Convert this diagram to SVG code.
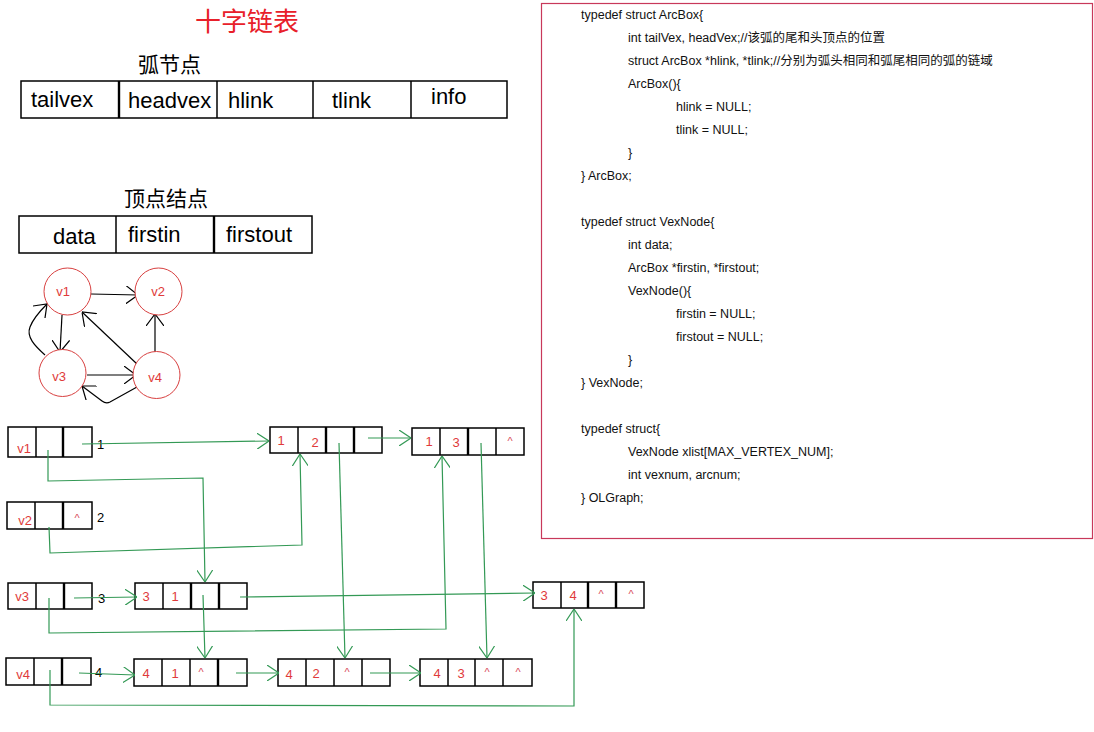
<svg xmlns="http://www.w3.org/2000/svg" width="1094" height="732" viewBox="0 0 1094 732">
<style>
.cjk{font-family:"Noto Sans CJK SC","Liberation Sans",sans-serif}
.big{font-family:"Liberation Sans","Noto Sans CJK SC",sans-serif;font-size:22px;fill:#000}
.code{font-family:"Liberation Sans","Noto Sans CJK SC",sans-serif;font-size:12.5px;fill:#111}
.box{fill:#fff;stroke:#000;stroke-width:1.5}
.div{stroke:#000;stroke-width:1.5}
.thk{stroke:#000;stroke-width:2.4}
.rt{font-family:"Liberation Sans",sans-serif;font-size:13px;fill:#e03a3a;text-anchor:middle}
.car{font-family:"Liberation Sans",sans-serif;font-size:11px;fill:#d84a5a;text-anchor:middle}
.lbl{font-family:"Liberation Sans",sans-serif;font-size:13px;fill:#000}
.circ{fill:#fff;stroke:#d84040;stroke-width:1}
.g{fill:none;stroke:#339955;stroke-width:1.2;marker-end:url(#ga)}
.b{fill:none;stroke:#000;stroke-width:1.2;marker-end:url(#ba)}
</style>
<defs>
<marker id="ga" viewBox="0 0 12 16" refX="12" refY="8" markerWidth="12" markerHeight="16" orient="auto" markerUnits="userSpaceOnUse"><path d="M0,0 L12,8 L0,16" fill="none" stroke="#339955" stroke-width="1.2"/></marker>
<marker id="ba" viewBox="0 0 12 18" refX="12" refY="9" markerWidth="12" markerHeight="18" orient="auto" markerUnits="userSpaceOnUse"><path d="M0,0 L12,9 L0,18" fill="none" stroke="#000" stroke-width="1.2"/></marker>
</defs>
<rect width="1094" height="732" fill="#fff"/>

<text class="cjk" x="195" y="31" font-size="26" fill="#e8202a">十字链表</text>

<g id="arcbox">
<text class="cjk" x="138" y="72" font-size="21" fill="#000">弧节点</text>
<rect class="box" x="21" y="81" width="486" height="37"/>
<line class="thk" x1="119" y1="81" x2="119" y2="118"/>
<line class="div" x1="217" y1="81" x2="217" y2="118"/>
<line class="div" x1="313" y1="81" x2="313" y2="118"/>
<line class="div" x1="411" y1="81" x2="411" y2="118"/>
<text class="big" x="31" y="107">tailvex</text>
<text class="big" x="128" y="108">headvex</text>
<text class="big" x="228" y="108">hlink</text>
<text class="big" x="332" y="108">tlink</text>
<text class="big" x="431" y="104">info</text>
</g>

<g id="vexbox">
<text class="cjk" x="124" y="206" font-size="21" fill="#000">顶点结点</text>
<rect class="box" x="19" y="216" width="293" height="37"/>
<line class="div" x1="116" y1="216" x2="116" y2="253"/>
<line class="thk" x1="214" y1="216" x2="214" y2="253"/>
<text class="big" x="53" y="244">data</text>
<text class="big" x="128" y="242">firstin</text>
<text class="big" x="226" y="242">firstout</text>
</g>

<g id="code">
<rect x="541.5" y="3.5" width="551" height="535" fill="none" stroke="#c8385a" stroke-width="1.2"/>
<text class="code" x="581" y="18.5">typedef struct ArcBox{</text>
<text class="code" x="628" y="41.5">int tailVex, headVex;//该弧的尾和头顶点的位置</text>
<text class="code" x="628" y="64.5">struct ArcBox *hlink, *tlink;//分别为弧头相同和弧尾相同的弧的链域</text>
<text class="code" x="628" y="87.5">ArcBox(){</text>
<text class="code" x="676" y="110.5">hlink = NULL;</text>
<text class="code" x="676" y="133.5">tlink = NULL;</text>
<text class="code" x="628" y="156.5">}</text>
<text class="code" x="581" y="179.5">} ArcBox;</text>
<text class="code" x="581" y="225.5">typedef struct VexNode{</text>
<text class="code" x="628" y="248.5">int data;</text>
<text class="code" x="628" y="271.5">ArcBox *firstin, *firstout;</text>
<text class="code" x="628" y="294.5">VexNode(){</text>
<text class="code" x="676" y="317.5">firstin = NULL;</text>
<text class="code" x="676" y="340.5">firstout = NULL;</text>
<text class="code" x="628" y="363.5">}</text>
<text class="code" x="581" y="386.5">} VexNode;</text>
<text class="code" x="581" y="432.5">typedef struct{</text>
<text class="code" x="628" y="455.5">VexNode xlist[MAX_VERTEX_NUM];</text>
<text class="code" x="628" y="478.5">int vexnum, arcnum;</text>
<text class="code" x="581" y="501.5">} OLGraph;</text>
</g>

<g id="graph-edges">
<path class="b" d="M91,294 L138,295"/>
<path class="b" d="M62,315 L60,352"/>
<path class="b" d="M87,375 L136,375"/>
<path class="b" d="M155,352 L155,314"/>
<path class="b" d="M137,364 L82,312"/>
<path class="b" d="M45,355 C35,346 26,337 30,327 C33,319 40,311 47,304"/>
<path class="b" d="M137,387 L110,402 Q106,404 102,401 L82,386"/>
</g>
<g id="gv1"><circle class="circ" cx="67.5" cy="291.5" r="23.5"/><text class="rt" x="63" y="296">v1</text></g>
<g id="gv2"><circle class="circ" cx="158.5" cy="291.5" r="23.5"/><text class="rt" x="158" y="296">v2</text></g>
<g id="gv3"><circle class="circ" cx="62.5" cy="373" r="23.5"/><text class="rt" x="59" y="381">v3</text></g>
<g id="gv4"><circle class="circ" cx="156.5" cy="375" r="23.5"/><text class="rt" x="155" y="382">v4</text></g>

<g id="xv1">
<rect class="box" x="8" y="427" width="84" height="30"/>
<line class="div" x1="36" y1="427" x2="36" y2="457"/><line class="thk" x1="63" y1="427" x2="63" y2="457"/>
<text class="rt" x="24" y="453">v1</text>
<text class="lbl" x="97" y="449">1</text>
</g>
<g id="xv2">
<rect class="box" x="7" y="502" width="85" height="27"/>
<line class="div" x1="35" y1="502" x2="35" y2="529"/><line class="thk" x1="63" y1="502" x2="63" y2="529"/>
<text class="rt" x="25" y="525">v2</text>
<text class="car" x="77" y="522">^</text>
<text class="lbl" x="97" y="522">2</text>
</g>
<g id="xv3">
<rect class="box" x="8" y="583" width="84" height="26"/>
<line class="div" x1="36" y1="583" x2="36" y2="609"/><line class="thk" x1="64" y1="583" x2="64" y2="609"/>
<text class="rt" x="22" y="601">v3</text>
<text class="lbl" x="98" y="603">3</text>
</g>
<g id="xv4">
<rect class="box" x="6" y="658" width="85" height="27"/>
<line class="div" x1="34" y1="658" x2="34" y2="685"/><line class="thk" x1="62" y1="658" x2="62" y2="685"/>
<text class="rt" x="23" y="679">v4</text>
<text class="lbl" x="95" y="677">4</text>
</g>

<g id="arc12">
<rect class="box" x="270" y="427" width="112" height="26"/>
<line class="div" x1="298" y1="427" x2="298" y2="453"/><line class="thk" x1="326" y1="427" x2="326" y2="453"/><line class="thk" x1="354" y1="427" x2="354" y2="453"/>
<text class="rt" x="281" y="445">1</text><text class="rt" x="315" y="447">2</text>
</g>
<g id="arc13">
<rect class="box" x="412" y="428" width="112" height="27"/>
<line class="div" x1="440" y1="428" x2="440" y2="455"/><line class="thk" x1="468" y1="428" x2="468" y2="455"/><line class="div" x1="496" y1="428" x2="496" y2="455"/>
<text class="rt" x="429" y="446">1</text><text class="rt" x="456" y="447">3</text><text class="car" x="510" y="445">^</text>
</g>
<g id="arc31">
<rect class="box" x="135" y="583" width="112" height="26"/>
<line class="div" x1="163" y1="583" x2="163" y2="609"/><line class="thk" x1="191" y1="583" x2="191" y2="609"/><line class="thk" x1="219" y1="583" x2="219" y2="609"/>
<text class="rt" x="146" y="601">3</text><text class="rt" x="175" y="601">1</text>
</g>
<g id="arc34">
<rect class="box" x="533" y="582" width="111" height="26"/>
<line class="div" x1="561" y1="582" x2="561" y2="608"/><line class="thk" x1="588" y1="582" x2="588" y2="608"/><line class="thk" x1="616" y1="582" x2="616" y2="608"/>
<text class="rt" x="544" y="600">3</text><text class="rt" x="573" y="600">4</text><text class="car" x="601" y="598">^</text><text class="car" x="631" y="598">^</text>
</g>
<g id="arc41">
<rect class="box" x="134" y="659" width="113" height="27"/>
<line class="div" x1="162" y1="659" x2="162" y2="686"/><line class="div" x1="190" y1="659" x2="190" y2="686"/><line class="thk" x1="218" y1="659" x2="218" y2="686"/>
<text class="rt" x="146" y="678">4</text><text class="rt" x="175" y="678">1</text><text class="car" x="201" y="676">^</text>
</g>
<g id="arc42">
<rect class="box" x="278" y="659" width="112" height="27"/>
<line class="div" x1="306" y1="659" x2="306" y2="686"/><line class="div" x1="334" y1="659" x2="334" y2="686"/><line class="div" x1="362" y1="659" x2="362" y2="686"/>
<text class="rt" x="289" y="679">4</text><text class="rt" x="316" y="678">2</text><text class="car" x="347" y="676">^</text>
</g>
<g id="arc43">
<rect class="box" x="420" y="659" width="112" height="27"/>
<line class="div" x1="448" y1="659" x2="448" y2="686"/><line class="div" x1="475" y1="659" x2="475" y2="686"/><line class="div" x1="503" y1="659" x2="503" y2="686"/>
<text class="rt" x="437" y="678">4</text><text class="rt" x="461" y="678">3</text><text class="car" x="487" y="676">^</text><text class="car" x="518" y="676">^</text>
</g>

<g id="connectors">
<path class="g" d="M82,444 L269,441"/>
<path class="g" d="M48,450 L48,481 L203,478 L205,582"/>
<path class="g" d="M49,527 L50,553 L302,545 L300,454"/>
<path class="g" d="M339,443 L345,658"/>
<path class="g" d="M368,438 L411,438"/>
<path class="g" d="M481,443 L487,658"/>
<path class="g" d="M49,598 L49,633 L446,629 L442,456"/>
<path class="g" d="M74,598 L137,597"/>
<path class="g" d="M240,597 L535,593"/>
<path class="g" d="M79,673 L135,675"/>
<path class="g" d="M236,673 L279,673"/>
<path class="g" d="M370,673 L421,673"/>
<path class="g" d="M50,670 L50,705 L574,706 L574,609"/>
<path class="g" d="M203,595 L205,658"/>
</g>
</svg>
